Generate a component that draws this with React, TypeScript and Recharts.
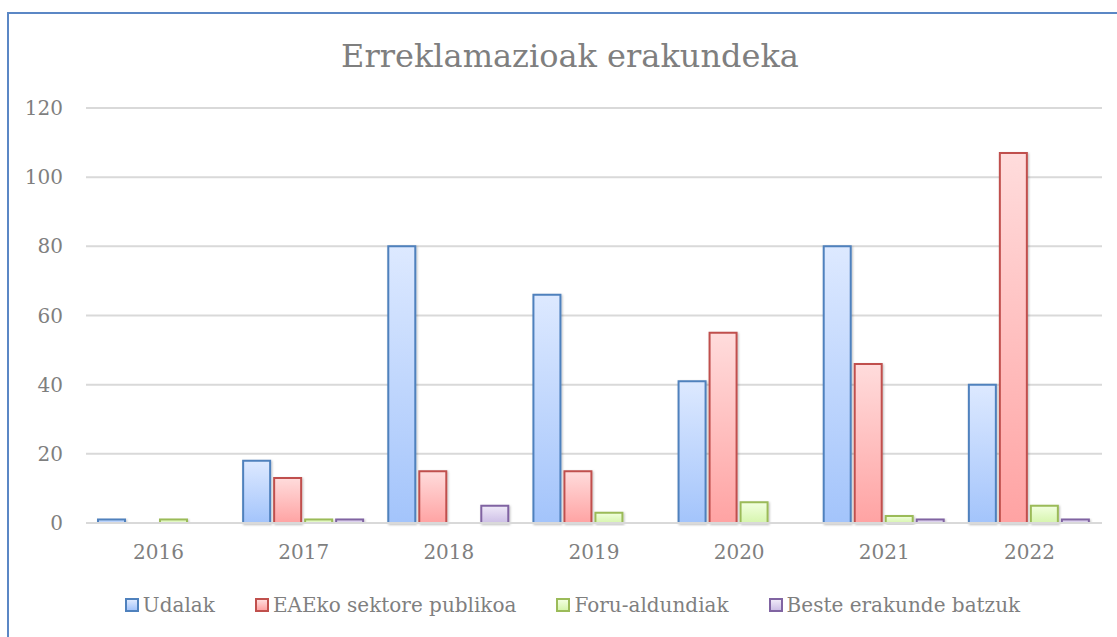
import { BarChart, Bar, XAxis, YAxis, CartesianGrid } from "recharts";

const years = ["2016", "2017", "2018", "2019", "2020", "2021", "2022"];
const udalak = [1, 18, 80, 66, 41, 80, 40];
const eaeko = [0, 13, 15, 15, 55, 46, 107];
const foru = [1, 1, 0, 3, 6, 2, 5];
const beste = [0, 1, 5, 0, 0, 1, 1];
const yTicks = [0, 20, 40, 60, 80, 100, 120];

const series = [
  { key: "udalak", name: "Udalak", stroke: "#4f81bd", top: "#dde9ff", bottom: "#a3c4fb" },
  { key: "eaeko", name: "EAEko sektore publikoa", stroke: "#c0504d", top: "#ffdcdc", bottom: "#ffa3a3" },
  { key: "foru", name: "Foru-aldundiak", stroke: "#9bbb59", top: "#f2ffe0", bottom: "#d6f5ad" },
  { key: "beste", name: "Beste erakunde batzuk", stroke: "#8064a2", top: "#efe9f8", bottom: "#cdbfe6" },
];

const data = years.map((year, i) => ({
  year,
  udalak: udalak[i],
  eaeko: eaeko[i],
  foru: foru[i],
  beste: beste[i],
}));

const font = "'DejaVu Serif', serif";
const grey = "#7f7f7f";

// legend drawn below the plot, outside the chart so it doesn't shrink the plot area
function ChartLegend() {
  return (
    <div
      style={{
        position: "absolute",
        left: 0,
        width: 1145,
        top: 593,
        display: "flex",
        justifyContent: "center",
        gap: 40,
        fontFamily: font,
        fontSize: 20,
        color: grey,
      }}
    >
      {series.map((s) => (
        <div key={s.key} style={{ display: "flex", alignItems: "center" }}>
          <span
            style={{
              display: "inline-block",
              width: 10,
              height: 10,
              border: `2px solid ${s.stroke}`,
              background: `linear-gradient(${s.top}, ${s.bottom})`,
              marginRight: 4,
            }}
          />
          <span>{s.name}</span>
        </div>
      ))}
    </div>
  );
}

export default function App() {
  return (
    <div
      style={{
        position: "fixed",
        inset: 0,
        overflow: "hidden",
        background: "#fff",
      }}
    >
      <div
        style={{
          position: "absolute",
          left: 7,
          top: 12,
          width: 1140,
          height: 660,
          border: "2px solid #5b87c5",
        }}
      />
      <div
        style={{
          position: "absolute",
          left: 0,
          width: 1140,
          top: 37,
          textAlign: "center",
          fontFamily: font,
          fontSize: 32,
          color: grey,
        }}
      >
        Erreklamazioak erakundeka
      </div>
      <div style={{ position: "absolute", left: 0, top: 0 }}>
        <BarChart
          width={1117}
          height={637}
          data={data}
          margin={{ top: 108, right: 15, left: 26, bottom: 74 }}
          barCategoryGap={12}
          barGap={4}
        >
          <defs>
            {series.map((s) => (
              <linearGradient key={s.key} id={`grad-${s.key}`} x1="0" y1="0" x2="0" y2="1">
                <stop offset="0%" stopColor={s.top} />
                <stop offset="100%" stopColor={s.bottom} />
              </linearGradient>
            ))}
            <filter id="shadow" x="-20%" y="-20%" width="140%" height="140%">
              <feDropShadow dx="1" dy="1" stdDeviation="1" floodColor="#000" floodOpacity="0.25" />
            </filter>
          </defs>
          <CartesianGrid stroke="#d9d9d9" strokeWidth={2} vertical={false} />
          <XAxis
            dataKey="year"
            height={40}
            axisLine={{ stroke: "#d9d9d9", strokeWidth: 2 }}
            tickLine={false}
            tickSize={0}
            tickMargin={22}
            tick={{ fill: grey, fontSize: 20, fontFamily: font }}
          />
          <YAxis
            width={60}
            domain={[0, 120]}
            ticks={yTicks}
            axisLine={false}
            tickLine={false}
            tickSize={0}
            tickMargin={23}
            tick={{ fill: grey, fontSize: 20, fontFamily: font }}
          />
          {series.map((s) => (
            <Bar
              key={s.key}
              dataKey={s.key}
              name={s.name}
              fill={`url(#grad-${s.key})`}
              stroke={s.stroke}
              strokeWidth={2}
              filter="url(#shadow)"
              isAnimationActive={false}
            />
          ))}
        </BarChart>
      </div>
      <ChartLegend />
    </div>
  );
}
